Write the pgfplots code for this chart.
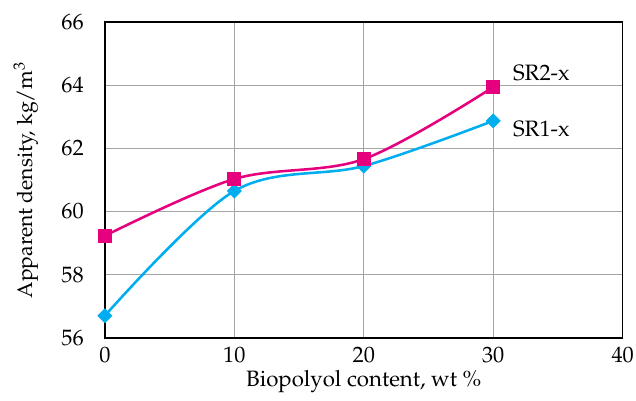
\documentclass[border=0pt]{standalone}
\usepackage[T1]{fontenc}
\usepackage{mathpazo}
\usepackage{pgfplots}
\pgfplotsset{compat=1.18}

\definecolor{srmag}{RGB}{230,0,126}
\definecolor{srcyan}{RGB}{0,174,239}
\definecolor{gridgray}{RGB}{165,165,165}

\begin{document}
\begin{tikzpicture}
\begin{axis}[
  name=ax,
  scale only axis,
  width=244.3pt, height=149pt,
  xmin=0, xmax=40, ymin=56, ymax=66,
  xtick={0,10,20,30,40},
  ytick={56,58,60,62,64,66},
  major tick length=0pt,
  grid=major,
  major grid style={gridgray, line width=0.6pt},
  axis line style={black, line width=0.7pt},
  tick label style={font=\fontsize{10.5}{12.5}\selectfont},
  xticklabel style={inner sep=1pt, yshift=-3.3pt},
  yticklabel style={xshift=-6.5pt},
  clip=false,
]
% SR1-x
\addplot[srcyan, line width=1.2pt, smooth, tension=0.55,
  mark=square*, mark size=2.3pt, mark options={fill=srcyan, draw=srcyan, rotate=45, line width=0.4pt}]
  coordinates {(0,56.70) (10,60.65) (20,61.44) (30,62.87)};
% SR2-x
\addplot[srmag, line width=1.2pt, smooth, tension=0.55,
  mark=square*, mark size=3.1pt, mark options={fill=srmag, draw=srmag, line width=0.4pt}]
  coordinates {(0,59.23) (10,61.03) (20,61.66) (30,63.94)};

\node[anchor=west, font=\fontsize{10.5}{12.5}\selectfont, inner sep=0pt] at (axis cs:31.5,64.39) {SR2-x};
\node[anchor=west, font=\fontsize{10.5}{12.5}\selectfont, inner sep=0pt] at (axis cs:31.5,62.61) {SR1-x};
\end{axis}
% axis titles
\node[font=\fontsize{10.5}{12.5}\selectfont] at ([yshift=-20.75pt]ax.south) {Biopolyol content, wt \%};
\node[rotate=90, font=\fontsize{10}{12}\selectfont] at ([xshift=-37.3pt]ax.west) {Apparent density, kg/m$^3$};
% margins around the plot
\path ([yshift=10.4pt]ax.north) ([yshift=-27.4pt]ax.south)
      ([xshift=-49.5pt]ax.west) ([xshift=6.3pt]ax.east);
\end{tikzpicture}
\end{document}
